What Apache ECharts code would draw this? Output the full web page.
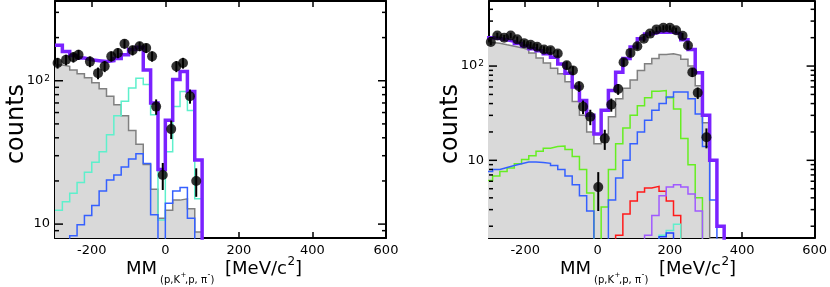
<!DOCTYPE html>
<html>
<head>
<meta charset="utf-8">
<script src="https://cdn.jsdelivr.net/npm/echarts@6.0.0/dist/echarts.min.js"></script>
<style>
html,body{margin:0;padding:0;background:#ffffff;}
#chart{width:830px;height:287px;}
</style>
</head>
<body>
<div id="chart"></div>
<script>
// ===================== DATA =====================
const binWidth = 20;                          // MeV/c^2 per bin
const xTickValues = [-200, 0, 200, 400, 600];
const BELOW = 0.1;                            // bin content below the visible axis range

// ---- left panel (bins start at -300) ----
const leftFirstEdge = -300;
const leftTotal  = [177,160,150,144,140,138,136,138,143,152,165,171,119,70,24,53,102,116,84,28];
const leftBkg    = [129,126,119,112,105,97,88,78,68,57,45,36,26,17.5,11,12.5,14.7,15,12.8,8.8];
const leftCyan   = [12.5,14.3,16.4,19.5,23,27,32,42,57,72,89,104,94,58,10.7,32,66,84,62,15];
const leftBlue   = [BELOW,BELOW,8.3,9.9,11.5,13.5,17,20.3,22,25,28.5,31,26.5,11.6,BELOW,14,17,18,11,BELOW];
const leftDataX  = [-293,-270,-250,-236,-205,-183,-165,-147,-129,-111,-89,-70,-52,-36,-25,-7,16,30,48,67,84];
const leftDataY  = [133,140,146,152,136,113,126,148,156,181,163,174,169,148,66,22,46,126,133,78,20];
const leftDataErr= [11.5,11.8,12.1,12.3,11.7,10.6,11.2,12.2,12.5,13.5,12.8,13.2,13,12.2,8.1,4.7,6.8,11.2,11.5,8.8,4.5];
const leftYMin = 8, leftYMax = 360;
const leftYTicks = [9,10,20,30,40,50,60,70,80,90,100,200,300];

// ---- right panel (bins start at -310) ----
const rightFirstEdge = -310;
const rightTotal = [200,196,190,183,174,163,153,145,135,124,105,84,60,43,30,19,34,55,86,120,159,195,219,228,230,229,220,190,150,85,30,10,2];
const rightBkg   = [178,175,168,162,156,150,138,122,108,95,83,68,42,30,20,15,19,29,45,58,71,90,106,120,133,135,130,118,100,62,25,BELOW,BELOW];
const rightGreen = [6.1,6.8,7.6,8.3,9.2,10.2,11.2,12.5,13.4,14,14.2,13,11,8,4.5,BELOW,3.2,8,15,22,30,38,46,54,55,46,35,17,9,4,BELOW,BELOW,BELOW];
const rightBlue  = [7.6,8.0,8.4,8.8,9.2,9.6,9.6,9.5,9.3,8.8,8.0,6.8,5.5,4.2,2.9,BELOW,BELOW,3.8,6.5,10,15,20,26.6,34,40,47,53,53,45,31,14,3.8,BELOW];
const rightRed   = [BELOW,BELOW,BELOW,BELOW,BELOW,BELOW,BELOW,BELOW,BELOW,BELOW,BELOW,BELOW,BELOW,BELOW,BELOW,BELOW,BELOW,BELOW,1.6,2.7,3.7,4.6,5.1,5.3,4.7,3.7,2.6,BELOW,BELOW,BELOW,BELOW,BELOW,BELOW];
const rightViolet= [BELOW,BELOW,BELOW,BELOW,BELOW,BELOW,BELOW,BELOW,BELOW,BELOW,BELOW,BELOW,BELOW,BELOW,BELOW,BELOW,BELOW,BELOW,BELOW,BELOW,BELOW,BELOW,1.6,2.6,4.2,5.2,5.5,5.2,4.4,2.9,BELOW,BELOW,BELOW];
const rightCyan  = [BELOW,BELOW,BELOW,BELOW,BELOW,BELOW,BELOW,BELOW,BELOW,BELOW,BELOW,BELOW,BELOW,BELOW,BELOW,BELOW,BELOW,BELOW,BELOW,BELOW,BELOW,BELOW,BELOW,BELOW,1.6,1.8,2.1,BELOW,BELOW,BELOW,BELOW,BELOW,BELOW];
const rightDkBlue= [BELOW,BELOW,BELOW,BELOW,BELOW,BELOW,BELOW,BELOW,BELOW,BELOW,BELOW,BELOW,BELOW,BELOW,BELOW,BELOW,BELOW,BELOW,BELOW,BELOW,BELOW,BELOW,BELOW,BELOW,1.55,1.7,BELOW,BELOW,BELOW,BELOW,BELOW,BELOW,BELOW];
const rightDataX = [-295,-277,-258,-240,-222,-203,-185,-167,-148,-130,-110,-85,-68,-51,-40,-20,2,20,38,57,72,91,110,128,145,163,182,200,217,235,250,262,277,301];
const rightDataY = [180,211,200,211,192,175,168,160,150,147,136,102,90,61,37,29,5.2,17,39,57,110,138,162,195,221,245,255,255,240,210,165,86,52,17.6];
const rightDataErr=[13.4,14.5,14.1,14.5,13.9,13.2,13,12.6,12.2,12.1,11.7,10.1,9.5,7.8,6.1,5.4,2.3,4.1,6.2,7.5,10.5,11.7,12.7,14,14.9,15.7,16,16,15.5,14.5,12.8,9.3,7.2,4.2];
const rightYMin = 1.5, rightYMax = 490;
const rightYTicks = [2,3,4,5,6,7,8,9,10,20,30,40,50,60,70,80,90,100,200,300,400];

const xMin = -300, xMax = 600;
const majorYTicks = [10, 100];

// ===================== STYLE =====================
const FONT = "'DejaVu Sans', sans-serif";
const C = {
  total: '#7a22ff', bkg: '#808080', bkgFill: '#d9d9d9',
  cyan: '#5ef0cc', blue: '#3560ff', green: '#66ee22', red: '#ff1a1a',
  violet: '#a05aff', dkblue: '#2040ff'
};

// ===================== HELPERS =====================
function histPoints(firstEdge, vals) {
  const pts = vals.map((v, i) => [firstEdge + i * binWidth, v]);
  pts.push([firstEdge + vals.length * binWidth, 1e-3]);
  return pts;
}
function histSeries(gi, firstEdge, vals, color, width, z, fill) {
  const s = {
    type: 'line', xAxisIndex: gi * 2, yAxisIndex: gi * 2, step: 'end',
    data: histPoints(firstEdge, vals), symbol: 'none', clip: true, z: z,
    lineStyle: { color: color, width: width, join: 'miter' },
    emphasis: { disabled: true }, silent: true
  };
  if (fill) s.areaStyle = { color: fill, opacity: 1, origin: 'start' };
  return s;
}
function dotsSeries(gi, xs, ys) {
  return { type: 'scatter', xAxisIndex: gi * 2, yAxisIndex: gi * 2, z: 20,
    data: xs.map((x, i) => [x, ys[i]]), symbol: 'circle', symbolSize: 10,
    itemStyle: { color: '#000' }, silent: true };
}
function errSeries(gi, xs, ys, es) {
  return { type: 'custom', xAxisIndex: gi * 2, yAxisIndex: gi * 2, z: 19, silent: true,
    data: xs.map((x, i) => [x, ys[i], es[i]]),
    renderItem: function (p, api) {
      const x = api.value(0), y = api.value(1), e = api.value(2);
      const a = api.coord([x, y + e]);
      const b = api.coord([x, Math.max(y - e, 1e-3)]);
      return { type: 'line', shape: { x1: a[0], y1: a[1], x2: b[0], y2: b[1] },
        style: { stroke: '#000', lineWidth: 2 } };
    } };
}
function yTickSeries(gi, ticks) {
  return { type: 'custom', xAxisIndex: gi * 2, yAxisIndex: gi * 2, z: 30, silent: true, clip: false,
    data: ticks.map(v => [xMin, v, majorYTicks.indexOf(v) >= 0 ? 1 : 0]),
    renderItem: function (p, api) {
      const v = api.value(1), major = api.value(2);
      const l = api.coord([xMin, v]), r = api.coord([xMax, v]);
      const len = major ? 8 : 4;
      return { type: 'group', children: [
        { type: 'line', shape: { x1: l[0], y1: l[1], x2: l[0] + len, y2: l[1] }, style: { stroke: '#000', lineWidth: 1.5 } },
        { type: 'line', shape: { x1: r[0], y1: r[1], x2: r[0] - len, y2: r[1] }, style: { stroke: '#000', lineWidth: 1.5 } }
      ] };
    } };
}
function xAxes(gi) {
  const base = { gridIndex: gi, type: 'value', min: xMin, max: xMax,
    axisLine: { show: true, onZero: false, lineStyle: { color: '#000', width: 2 } },
    axisTick: { show: true, inside: true, length: 6, customValues: xTickValues, lineStyle: { color: '#000', width: 1.5 } },
    splitLine: { show: false } };
  return [
    Object.assign({}, base, { position: 'bottom',
      axisLabel: { show: true, customValues: xTickValues, color: '#000', fontSize: 13, fontFamily: FONT, margin: 6 } }),
    Object.assign({}, base, { position: 'top', axisLabel: { show: false } })
  ];
}
function yAxes(gi, mn, mx) {
  const base = { gridIndex: gi, type: 'log', logBase: 10, min: mn, max: mx,
    axisLine: { show: true, onZero: false, lineStyle: { color: '#000', width: 2 } },
    axisTick: { show: false }, splitLine: { show: false }, minorTick: { show: false } };
  return [
    Object.assign({}, base, { position: 'left',
      axisLabel: { show: true, color: '#000', fontSize: 13, fontFamily: FONT, margin: 5,
        showMinLabel: false, showMaxLabel: false,
        formatter: function (v) {
          if (Math.abs(v - 100) < 1) return '10{sup|2}';
          if (Math.abs(v - 10) < 0.1) return '10';
          return '';
        },
        rich: { sup: { fontSize: 9, fontFamily: FONT, color: '#000', verticalAlign: 'top', padding: [0, 0, 0, 1] } } } }),
    Object.assign({}, base, { position: 'right', axisLabel: { show: false } })
  ];
}
function txt(x, y, text, size, opts) {
  return Object.assign({ type: 'text', x: x, y: y, silent: true,
    style: { text: text, fontSize: size, fontFamily: FONT, fill: '#000',
      align: 'left', textAlign: 'left', verticalAlign: 'middle', textVerticalAlign: 'middle' } }, opts || {});
}
function titles(dx) {
  const t = [];
  const c = txt(17 + dx, 124, 'counts', 24, { rotation: Math.PI / 2 });
  c.style.align = c.style.textAlign = 'center';
  t.push(c);
  t.push(txt(126 + dx, 269, 'MM', 18));
  t.push(txt(160 + dx, 280, '(p,K', 10));
  t.push(txt(180.5 + dx, 275, '+', 7));
  t.push(txt(185 + dx, 280, ',p, \u03c0', 10));
  t.push(txt(207.5 + dx, 275, '-', 8));
  t.push(txt(210.5 + dx, 280, ')', 10));
  t.push(txt(225 + dx, 269, '[MeV/c', 18));
  t.push(txt(287.5 + dx, 262, '2', 12));
  t.push(txt(295 + dx, 269, ']', 18));
  return t;
}

// ===================== OPTION =====================
const option = {
  animation: false,
  backgroundColor: '#ffffff',
  grid: [
    { left: 55, top: 1, width: 331, height: 237, containLabel: false },
    { left: 489, top: 1, width: 331, height: 237, containLabel: false }
  ],
  xAxis: [].concat(xAxes(0), xAxes(1)),
  yAxis: [].concat(yAxes(0, leftYMin, leftYMax), yAxes(1, rightYMin, rightYMax)),
  series: [
    histSeries(0, leftFirstEdge, leftBkg, C.bkg, 1.5, 2, C.bkgFill),
    histSeries(0, leftFirstEdge, leftCyan, C.cyan, 1.5, 3),
    histSeries(0, leftFirstEdge, leftBlue, C.blue, 1.5, 4),
    histSeries(0, leftFirstEdge, leftTotal, C.total, 3.5, 10),
    errSeries(0, leftDataX, leftDataY, leftDataErr),
    dotsSeries(0, leftDataX, leftDataY),
    yTickSeries(0, leftYTicks),

    histSeries(1, rightFirstEdge, rightBkg, C.bkg, 1.5, 2, C.bkgFill),
    histSeries(1, rightFirstEdge, rightGreen, C.green, 1.5, 3),
    histSeries(1, rightFirstEdge, rightBlue, C.blue, 1.5, 4),
    histSeries(1, rightFirstEdge, rightRed, C.red, 1.5, 5),
    histSeries(1, rightFirstEdge, rightViolet, C.violet, 1.5, 5),
    histSeries(1, rightFirstEdge, rightCyan, C.cyan, 1.5, 6),
    histSeries(1, rightFirstEdge, rightDkBlue, C.dkblue, 1.5, 6),
    histSeries(1, rightFirstEdge, rightTotal, C.total, 3.5, 10),
    errSeries(1, rightDataX, rightDataY, rightDataErr),
    dotsSeries(1, rightDataX, rightDataY),
    yTickSeries(1, rightYTicks)
  ],
  graphic: { elements: [].concat(titles(0), titles(434)) }
};

const chart = echarts.init(document.getElementById('chart'), null, { renderer: 'canvas' });
chart.setOption(option);
</script>
</body>
</html>
